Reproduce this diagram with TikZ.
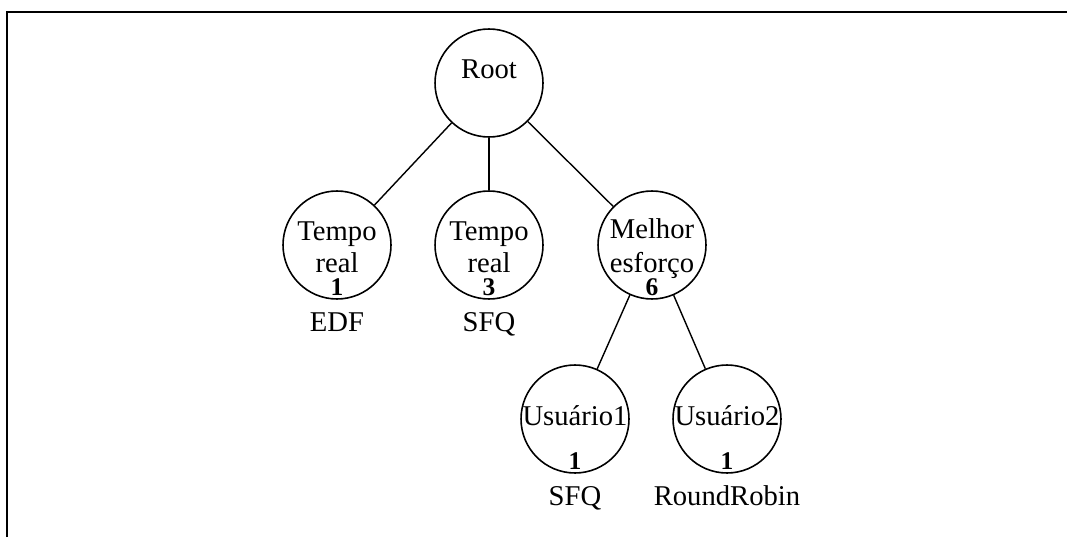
\documentclass[tikz,border=0pt]{standalone}
\usepackage{fontspec}
\setmainfont{Liberation Serif}
\usepackage{tikz}

\tikzset{
  vtx/.style={draw, circle, line width=0.9pt, minimum size=2.16cm, inner sep=0pt},
  word/.style={anchor=base, inner sep=0pt, font=\fontsize{16.3}{19}\selectfont},
  wgt/.style={anchor=base, inner sep=0pt, font=\fontsize{14.5}{17}\selectfont\bfseries},
  edge/.style={line width=0.8pt},
}

\begin{document}
\begin{tikzpicture}[x=0.02cm, y=-0.02cm]
\useasboundingbox (0,0) rectangle (1067,537);
\draw [line width=1.3pt] (7,537)--(7,12)--(1067,12);
% classes
\node [vtx] (root) at (489,83) {};
\node [vtx] (rt1) at (337,245) {};
\node [vtx] (rt3) at (489,245) {};
\node [vtx] (be) at (652,245) {};
\node [vtx] (usr1) at (575,419) {};
\node [vtx] (usr2) at (727,419) {};
\draw [edge] (root)--(rt1);
\draw [edge] (root)--(rt3);
\draw [edge] (root)--(be);
\draw [edge] (be)--(usr1);
\draw [edge] (be)--(usr2);
% names inside the circles
\node [word] (rootname) at (489,78) {Root};
\node [word] (rt1name) at (337,240) {Tempo};
\node [word] (rt1name2) at (337,272) {real};
\node [word] (rt3name) at (489,240) {Tempo};
\node [word] (rt3name2) at (489,272) {real};
\node [word] (bename) at (652,238) {Melhor};
\node [word] (bename2) at (652,272) {esforço};
\node [word] (usr1name) at (575,425) {Usuário1};
\node [word] (usr2name) at (727,425) {Usuário2};
% weights
\node [wgt] (rt1w) at (337,295) {1};
\node [wgt] (rt3w) at (489,295) {3};
\node [wgt] (bew) at (652,295) {6};
\node [wgt] (usr1w) at (575,469) {1};
\node [wgt] (usr2w) at (727,469) {1};
% schedulers
\node [word] (rt1sched) at (337,331) {EDF};
\node [word] (rt3sched) at (489,331) {SFQ};
\node [word] (usr1sched) at (575,505) {SFQ};
\node [word] (usr2sched) at (727,505) {RoundRobin};
\end{tikzpicture}
\end{document}
